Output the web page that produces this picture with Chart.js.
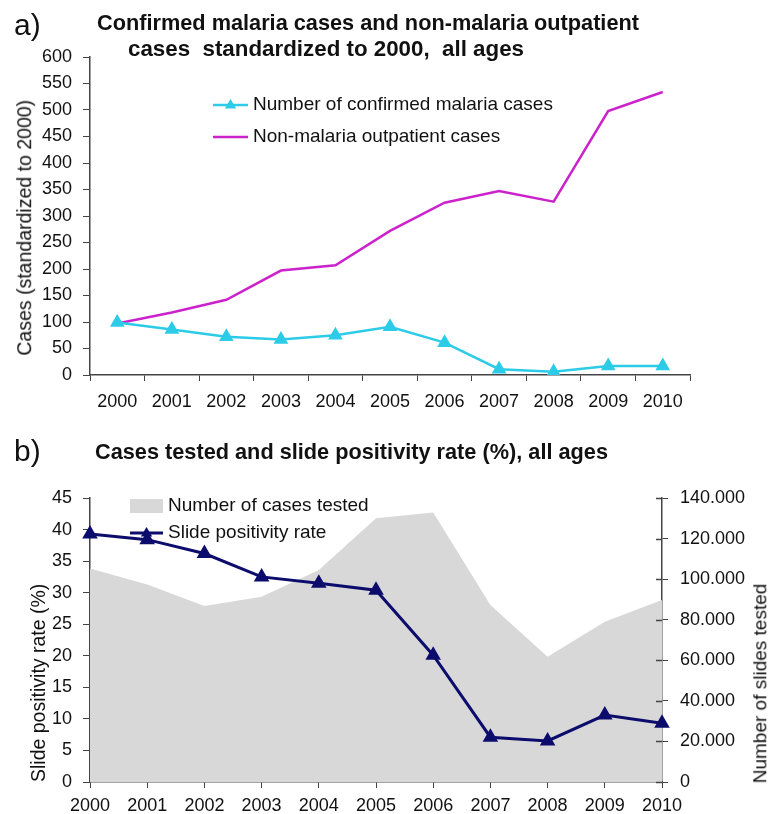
<!DOCTYPE html>
<html>
<head>
<meta charset="utf-8">
<script src="https://cdn.jsdelivr.net/npm/chart.js@4/dist/chart.umd.min.js"></script>
<style>
    body { margin: 0; background: #fff; }
    #page { position: relative; width: 768px; height: 814px; overflow: hidden; font-family: "Liberation Sans", Arial, sans-serif; color: #111; }
    .box { position: absolute; left: 0; width: 768px; }
    .lbl { position: absolute; white-space: nowrap; line-height: 1; transform-origin: 0 0; }
    .ttl { font-size: 21.5px; font-weight: bold; }
</style>
</head>
<body>
<div id="page">
    <div class="box" style="top:0;height:420px"><canvas id="chartA"></canvas></div>
    <div class="box" style="top:400px;height:414px"><canvas id="chartB"></canvas></div>

    <div class="lbl" style="left:14px;top:10px;font-size:30px">a)</div>
    <div class="lbl ttl fit" data-w="542" style="left:97px;top:13px">Confirmed malaria cases and non-malaria outpatient</div>
    <div class="lbl ttl fit" data-w="396" style="left:128px;top:39px">cases&nbsp; standardized to 2000,&nbsp; all ages</div>

    <div class="lbl" style="left:14px;top:436px;font-size:30px">b)</div>
    <div class="lbl ttl fit" data-w="513" style="left:95px;top:442px">Cases tested and slide positivity rate (%), all ages</div>

    <div class="lbl rot" data-x="25" data-y="228" style="font-size:19.5px">Cases (standardized to 2000)</div>
    <div class="lbl rot" data-x="760" data-y="683" style="font-size:19px">Number of slides tested</div>
</div>

<script>
const years = ['2000', '2001', '2002', '2003', '2004', '2005', '2006', '2007', '2008', '2009', '2010'];

// panel a) - standardized to 2000 = 100
const malariaCases = [99, 86, 72, 67, 75, 91, 61, 11, 6, 17, 17];
const nonMalariaCases = [97, 118, 142, 197, 207, 272, 325, 347, 327, 498, 534];

// panel b)
const slidePositivity = [39.3, 38.4, 36.2, 32.5, 31.5, 30.4, 20.1, 7.1, 6.5, 10.6, 9.3];
const casesTested = [105300, 97400, 86700, 91300, 104500, 130000, 132800, 87200, 61700, 79000, 89700];

const FONT = '"Liberation Sans", Arial, sans-serif';
const AXIS = '#444';

// squeeze the titles to the width they have in the figure
document.querySelectorAll('.fit').forEach(el => {
    const w = el.getBoundingClientRect().width;
    el.style.transform = 'scaleX(' + (el.dataset.w / w) + ')';
});

// vertical axis titles that read bottom to top
document.querySelectorAll('.rot').forEach(el => {
    const r = el.getBoundingClientRect();
    el.style.left = (el.dataset.x - r.width / 2) + 'px';
    el.style.top = (el.dataset.y - r.height / 2) + 'px';
    el.style.transformOrigin = '50% 50%';
    el.style.transform = 'rotate(-90deg)';
});

// legend drawn at a fixed spot inside the plot, like the original
const legendBox = {
    id: 'legendBox',
    afterDraw(chart, args, opts) {
        if (!opts.items) return;
        const ctx = chart.ctx;
        ctx.save();
        ctx.font = opts.font;
        ctx.textBaseline = 'middle';
        opts.items.forEach((idx, i) => {
            const ds = chart.data.datasets[idx];
            const x = opts.x;
            const y = opts.y + i * opts.spacing;
            const w = opts.symbolWidth;
            if (ds.fill) {
                ctx.fillStyle = ds.backgroundColor;
                ctx.fillRect(x, y - 7, w, 14);
            } else {
                ctx.strokeStyle = ds.borderColor;
                ctx.lineWidth = ds.borderWidth;
                ctx.beginPath();
                ctx.moveTo(x, y);
                ctx.lineTo(x + w, y);
                ctx.stroke();
                if (ds.pointStyle === 'triangle' && ds.pointRadius > 0) {
                    const r = ds.pointRadius;
                    const cx = x + w / 2;
                    ctx.fillStyle = ds.pointBackgroundColor;
                    ctx.beginPath();
                    ctx.moveTo(cx, y - r);
                    ctx.lineTo(cx + r * 0.95, y + r * 0.6);
                    ctx.lineTo(cx - r * 0.95, y + r * 0.6);
                    ctx.closePath();
                    ctx.fill();
                }
            }
            ctx.fillStyle = '#111';
            ctx.fillText(ds.label, x + w + 5, y);
        });
        ctx.restore();
    }
};

// the right axis of panel b has tick marks that cross into the plot
const innerTicks = {
    id: 'innerTicks',
    afterDraw(chart) {
        const s = chart.scales.y2;
        if (!s) return;
        const ctx = chart.ctx;
        ctx.save();
        ctx.strokeStyle = AXIS;
        ctx.lineWidth = 1.5;
        s.ticks.forEach(t => {
            const y = Math.round(s.getPixelForValue(t.value)) + 0.5;
            ctx.beginPath();
            ctx.moveTo(s.left - 6, y);
            ctx.lineTo(s.left, y);
            ctx.stroke();
        });
        ctx.restore();
    }
};

function tickFont() {
    return { family: FONT, size: 18 };
}

const chartA = new Chart(document.getElementById('chartA'), {
    type: 'line',
    data: {
        labels: years,
        datasets: [{
            label: 'Number of confirmed malaria cases',
            data: malariaCases,
            borderColor: '#2ccbe8',
            backgroundColor: '#2ccbe8',
            pointBackgroundColor: '#2ccbe8',
            pointBorderColor: '#2ccbe8',
            borderWidth: 2.5,
            pointStyle: 'triangle',
            pointRadius: 6,
            tension: 0
        }, {
            label: 'Non-malaria outpatient cases',
            data: nonMalariaCases,
            borderColor: '#cc22cc',
            backgroundColor: '#cc22cc',
            borderWidth: 2.5,
            pointRadius: 0,
            tension: 0
        }]
    },
    options: {
        responsive: true,
        maintainAspectRatio: false,
        animation: false,
        layout: { padding: { top: 57, right: 78, left: 0, bottom: 0 } },
        plugins: {
            legend: { display: false },
            tooltip: { enabled: false },
            legendBox: {
                items: [0, 1],
                x: 213, y: 105, spacing: 32, symbolWidth: 35,
                font: '19px ' + FONT
            }
        },
        scales: {
            x: {
                offset: true,
                grid: { offset: true, drawOnChartArea: false, color: AXIS, tickLength: 6 },
                border: { color: AXIS, width: 1.5 },
                ticks: { color: '#111', font: tickFont(), padding: 10, maxRotation: 0 },
                afterFit: function(scale) { scale.height = 45; }
            },
            y: {
                min: 0,
                max: 600,
                ticks: { stepSize: 50, color: '#111', font: tickFont(), padding: 11 },
                grid: { drawOnChartArea: false, color: AXIS, tickLength: 7 },
                border: { color: AXIS, width: 1.5 },
                afterFit: function(scale) { scale.width = 90; }
            }
        }
    },
    plugins: [legendBox]
});

const chartB = new Chart(document.getElementById('chartB'), {
    type: 'line',
    data: {
        labels: years,
        datasets: [{
            label: 'Slide positivity rate',
            data: slidePositivity,
            yAxisID: 'y',
            borderColor: '#0c0c6c',
            backgroundColor: '#0c0c6c',
            pointBackgroundColor: '#0c0c6c',
            pointBorderColor: '#0c0c6c',
            borderWidth: 3,
            pointStyle: 'triangle',
            pointRadius: 6,
            tension: 0,
            order: 1
        }, {
            label: 'Number of cases tested',
            data: casesTested,
            yAxisID: 'y2',
            fill: 'origin',
            backgroundColor: '#d8d8d8',
            borderColor: '#d8d8d8',
            borderWidth: 0,
            pointRadius: 0,
            tension: 0,
            order: 2
        }]
    },
    options: {
        responsive: true,
        maintainAspectRatio: false,
        animation: false,
        layout: { padding: { top: 98, right: 0, left: 0, bottom: 0 } },
        plugins: {
            legend: { display: false },
            tooltip: { enabled: false },
            legendBox: {
                items: [1, 0],
                x: 130, y: 106, spacing: 27, symbolWidth: 33,
                font: '19px ' + FONT
            }
        },
        scales: {
            x: {
                grid: { drawOnChartArea: false, color: AXIS, tickLength: 6 },
                border: { color: AXIS, width: 1.5 },
                ticks: { color: '#111', font: tickFont(), padding: 7, maxRotation: 0 },
                afterFit: function(scale) { scale.height = 32; }
            },
            y: {
                position: 'left',
                min: 0,
                max: 45,
                ticks: { stepSize: 5, color: '#111', font: tickFont(), padding: 11 },
                grid: { drawOnChartArea: false, color: AXIS, tickLength: 7 },
                border: { color: AXIS, width: 1.5 },
                title: {
                    display: true,
                    text: 'Slide positivity rate (%)',
                    align: 'start',
                    color: '#111',
                    font: { family: FONT, size: 19.5 },
                    padding: { top: 28, bottom: 0 }
                },
                afterFit: function(scale) { scale.width = 90; }
            },
            y2: {
                position: 'right',
                min: 0,
                max: 140000,
                ticks: {
                    stepSize: 20000,
                    color: '#111',
                    font: tickFont(),
                    padding: 12,
                    callback: v => v.toLocaleString('de-DE')
                },
                grid: { drawOnChartArea: false, color: AXIS, tickLength: 6 },
                border: { color: AXIS, width: 1.5 },
                afterFit: function(scale) { scale.width = 106; }
            }
        }
    },
    plugins: [legendBox, innerTicks]
});
</script>
</body>
</html>
